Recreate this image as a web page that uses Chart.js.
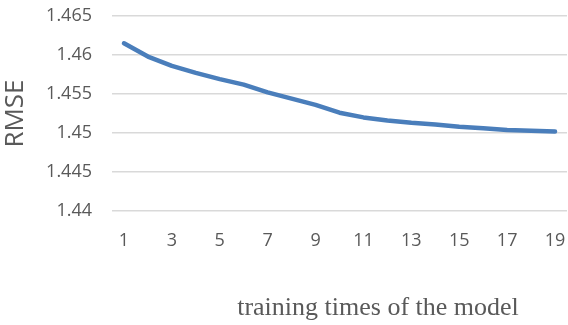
<!DOCTYPE html>
<html>
<head>
<meta charset="utf-8">
<script src="https://cdn.jsdelivr.net/npm/chart.js@4.4.1/dist/chart.umd.min.js"></script>
<style>
  html, body { margin: 0; padding: 0; background: #fff; }
  #wrap { width: 568px; height: 325px; position: relative; }
</style>
</head>
<body>
<div id="wrap"><canvas id="rmseChart"></canvas></div>
<script>
// training runs 1..19, RMSE after each
const runs = ['1','2','3','4','5','6','7','8','9','10','11','12','13','14','15','16','17','18','19'];
const rmse = [1.4615, 1.4598, 1.4586, 1.4577, 1.4569, 1.4562, 1.4552, 1.4544, 1.4536, 1.4526,
              1.4520, 1.4516, 1.4513, 1.4511, 1.4508, 1.4506, 1.4504, 1.4503, 1.4502];
const yTicks = ['1.44', '1.445', '1.45', '1.455', '1.46', '1.465'];
const xTitle = 'training times of the model';

const textGray = '#595959';

// x axis title sits off-centre, so draw it by hand
const xTitlePlugin = {
  id: 'xTitle',
  afterDraw(chart) {
    const ctx = chart.ctx;
    ctx.save();
    ctx.font = '26px "Liberation Serif", "Times New Roman", serif';
    ctx.fillStyle = textGray;
    ctx.textAlign = 'center';
    ctx.textBaseline = 'middle';
    ctx.fillText(xTitle, chart.chartArea.left + 266, 308);
    ctx.restore();
  }
};

new Chart(document.getElementById('rmseChart'), {
  type: 'line',
  data: {
    labels: runs,
    datasets: [{
      data: rmse,
      borderColor: '#4a7ebb',
      borderWidth: 4.5,
      borderCapStyle: 'round',
      borderJoinStyle: 'round',
      pointRadius: 0,
      tension: 0,
      fill: false
    }]
  },
  options: {
    responsive: true,
    maintainAspectRatio: false,
    animation: false,
    layout: { padding: { top: 16, right: 1, left: 0, bottom: 0 } },
    plugins: {
      legend: { display: false },
      tooltip: { enabled: false }
    },
    scales: {
      x: {
        offset: true,
        grid: { display: false, drawTicks: false },
        border: { display: false },
        afterFit(scale) {
          scale.height = 114;
          scale.paddingLeft = 0;
          scale.paddingRight = 0;
        },
        ticks: {
          color: textGray,
          font: { family: '"Open Sans", sans-serif', size: 18 },
          padding: 19,
          maxRotation: 0,
          autoSkip: false,
          callback(value, index) { return index % 2 === 0 ? runs[index] : ''; }
        }
      },
      y: {
        min: 1.44,
        max: 1.465,
        afterFit(scale) {
          scale.width = 112;
          scale.paddingTop = 0;
          scale.paddingBottom = 0;
        },
        grid: { color: '#d9d9d9', lineWidth: 1.5, drawTicks: false },
        border: { display: false },
        ticks: {
          stepSize: 0.005,
          color: textGray,
          padding: 20,
          font: { family: '"Open Sans", sans-serif', size: 18 },
          callback(value, index) { return yTicks[index]; }
        },
        title: {
          display: true,
          text: 'RMSE',
          color: textGray,
          font: { family: '"Open Sans", sans-serif', size: 26 },
          padding: { top: 0, bottom: 0 }
        }
      }
    }
  },
  plugins: [xTitlePlugin]
});
</script>
</body>
</html>
